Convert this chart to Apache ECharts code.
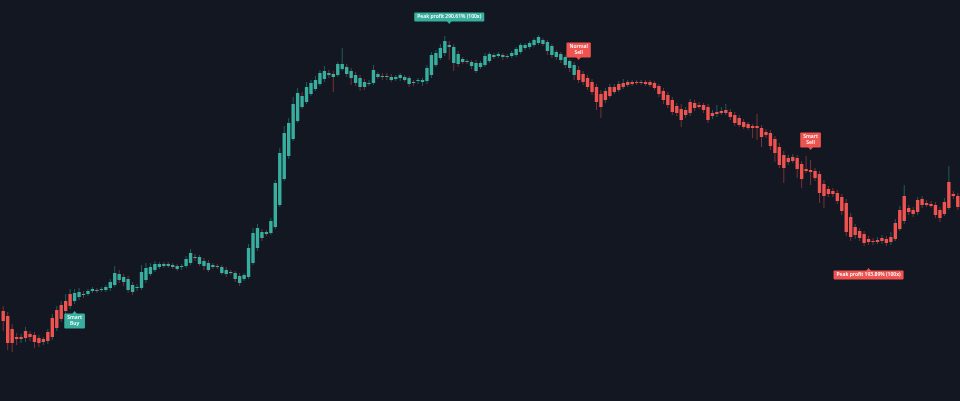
<!DOCTYPE html>
<html>
<head>
<meta charset="utf-8">
<script src="https://cdn.jsdelivr.net/npm/echarts@6/dist/echarts.min.js"></script>
<style>
html,body{margin:0;padding:0;background:#131722;}
#c{width:960px;height:401px;}
</style>
</head>
<body>
<div id="c"></div>
<script>
// OHLC values (price units)
const opens = [90,85,72,64,62,63,67,66,63,59,60,64,73,82,90,95,100,104,107,107,110,111,111,111,113,116,127,124,122,116,113,113,121,127,131,134,137,137,136,135,134,135,138,144,144,140,138,136,135,134,131,129,128,125,122,124,138,153,169,169,168,174,196,222,245,262,280,305,299,307,312,317,322,328,327,326,332,334,330,326,323,319,317,318,327,325,325,324,322,323,324,323,319,320,319,320,326,336,343,348,356,354,347,342,340,339,338,334,336,340,346,345,346,345,345,346,349,353,354,356,358,361,359,355,349,347,344,340,336,331,327,323,319,314,307,301,305,309,311,314,316,317,319,318,319,319,318,315,310,306,301,295,292,286,288,298,296,296,294,285,287,288,288,289,286,283,279,277,275,275,273,269,268,262,254,246,239,240,243,237,232,231,230,227,217,212,210,208,204,198,184,166,170,167,162,160,159,160,162,159,162,172,180,193,191,189,196,198,197,196,191,187,193,207,205];
const closes = [80,58,58,62,64,70,64,59,58,62,69,83,91,96,100,107,108,109,106,110,112,110,112,114,119,128,121,119,111,109,114,129,133,134,137,137,135,135,134,132,135,142,148,143,137,135,131,134,134,128,127,128,122,118,126,153,168,173,163,167,180,218,248,268,278,297,308,294,314,318,321,328,330,326,324,337,337,327,323,318,314,314,318,331,324,324,324,321,324,326,321,317,318,321,321,333,346,348,353,360,354,338,337,339,339,335,330,338,345,347,344,347,344,344,348,352,356,356,358,361,364,357,350,346,344,341,336,333,326,321,319,314,309,299,294,310,314,314,317,318,319,319,318,319,317,316,313,307,301,296,289,288,281,291,299,293,294,291,281,288,289,290,291,284,278,276,274,273,273,273,264,266,255,248,236,233,243,244,232,222,230,229,223,208,205,207,207,200,190,169,164,174,163,158,159,159,161,163,158,164,178,191,205,189,187,201,202,196,195,186,183,199,219,205,194];
const lows = [70,51,49,56,58,59,60,53,54,56,57,61,70,79,87,92,97,101,103,105,108,108,109,109,110,114,118,115,108,106,110,111,118,125,129,132,133,133,132,130,131,133,136,140,135,131,129,132,132,126,124,126,119,115,120,122,136,150,160,165,166,172,194,220,242,260,278,292,297,305,310,315,319,323,309,324,330,324,316,315,310,311,315,316,322,321,321,319,320,320,319,314,315,317,315,317,323,334,341,345,341,330,334,337,337,332,328,332,334,338,342,343,341,342,343,344,347,351,352,354,356,355,346,343,341,338,333,329,321,318,316,311,306,291,283,298,303,307,309,312,314,315,316,316,315,314,311,304,297,293,286,285,274,283,285,290,292,288,278,282,284,286,286,281,275,274,272,271,263,261,254,263,251,239,233,218,236,238,223,213,228,216,220,198,193,204,204,197,186,165,160,162,160,155,156,156,157,157,155,156,160,170,177,186,184,186,193,194,193,183,179,185,191,202,191];
const highs = [95,89,77,68,67,74,70,69,66,64,72,87,95,100,107,112,112,113,110,112,114,113,114,116,122,135,131,127,125,119,117,136,138,138,140,139,139,139,138,137,137,145,152,147,146,143,141,138,137,136,134,131,130,128,128,157,173,177,172,171,183,221,253,275,283,304,313,309,319,321,325,331,335,331,330,339,353,337,333,329,326,322,321,336,329,328,328,327,326,328,326,325,321,323,323,336,349,351,357,365,360,357,350,344,342,341,341,340,348,349,348,349,348,347,350,354,358,358,360,363,366,363,361,357,351,349,346,342,339,335,330,326,322,317,311,313,317,317,320,322,321,321,321,321,321,321,320,317,313,309,304,298,297,294,302,301,299,298,297,291,296,294,297,292,289,286,282,279,277,287,276,272,271,265,258,250,246,247,246,240,245,241,233,230,221,215,213,211,207,202,188,177,173,170,165,163,164,166,165,169,182,195,216,196,194,204,205,201,200,199,194,203,235,210,208];

// Trade signals (candle index) and chart annotations
const buySignals = [16];
const sellSignals = [129];
const noteIndex = [16, 100, 129, 181, 194];
const notePrice = [90, 377, 341, 251, 133];
const noteText = ['Smart\nBuy', 'Peak profit 290.61% (100x)', 'Normal\nSell', 'Smart\nSell', 'Peak profit 193.89% (100x)'];
const noteKind = ['buy', 'buy', 'sell', 'sell', 'sell'];
const noteSide = ['below', 'above', 'above', 'above', 'below'];

const TEAL = '#38ae9e', RED = '#ef5350';
const categories = opens.map((_, i) => String(i + 1));

// regime: long between buy and sell signals
const regime = [];
let state = 'flat';
for (let i = 0; i < opens.length; i++) {
  if (buySignals.includes(i)) state = 'long';
  if (sellSignals.includes(i)) state = 'flat';
  regime.push(state);
}

const candleData = opens.map((o, i) => [i, o, closes[i], lows[i], highs[i]]);
const noteData = noteIndex.map((idx, k) => [idx, notePrice[k]]);

const chart = echarts.init(document.getElementById('c'), null, {renderer: 'canvas'});
chart.setOption({
  backgroundColor: '#131722',
  animation: false,
  grid: {left: 1, width: 961, top: 0, bottom: 0},
  xAxis: {type: 'category', data: categories, show: false, boundaryGap: true},
  yAxis: {type: 'value', min: 0, max: 401, show: false, splitLine: {show: false}},
  series: [
    {
      type: 'custom',
      data: candleData,
      encode: {x: 0, y: [1, 2, 3, 4]},
      clip: true,
      renderItem: function (params, api) {
        const i = api.value(0);
        const o = api.value(1), c = api.value(2), l = api.value(3), h = api.value(4);
        const pO = api.coord([i, o]), pC = api.coord([i, c]);
        const pH = api.coord([i, h]), pL = api.coord([i, l]);
        const w = api.size([1, 0])[0] * 0.76;
        const x = pO[0];
        const top = Math.min(pO[1], pC[1]);
        const bh = Math.max(Math.abs(pO[1] - pC[1]), 1);
        const body = regime[i] === 'long' ? TEAL : RED;
        const wick = c >= o ? 'rgba(56,174,158,0.45)' : 'rgba(239,83,80,0.45)';
        return {
          type: 'group',
          children: [
            {type: 'line', shape: {x1: x, y1: pH[1], x2: x, y2: pL[1]}, style: {stroke: wick, lineWidth: 1}},
            {type: 'rect', shape: {x: x - w / 2, y: top, width: w, height: bh}, style: {fill: body}}
          ]
        };
      }
    },
    {
      type: 'custom',
      data: noteData,
      encode: {x: 0, y: 1},
      clip: false,
      z: 5,
      renderItem: function (params, api) {
        const k = params.dataIndex;
        const p = api.coord([api.value(0), api.value(1)]);
        const col = noteKind[k] === 'buy' ? TEAL : RED;
        const above = noteSide[k] === 'above';
        const ah = 3, aw = 2.5;
        const baseY = above ? p[1] - ah : p[1] + ah;
        return {
          type: 'group',
          children: [
            {type: 'polygon', shape: {points: [[p[0] - aw, baseY], [p[0] + aw, baseY], [p[0], p[1]]]}, style: {fill: col}},
            {type: 'text', x: p[0], y: above ? baseY + 0.5 : baseY - 0.5,
              style: {
                text: noteText[k], fill: '#ffffff', fontSize: 5, fontWeight: 600,
                fontFamily: 'Noto Sans, sans-serif', lineHeight: 6,
                align: 'center', verticalAlign: above ? 'bottom' : 'top',
                backgroundColor: col, padding: [1.5, 3], borderRadius: 1
              }}
          ]
        };
      }
    }
  ]
});
</script>
</body>
</html>
